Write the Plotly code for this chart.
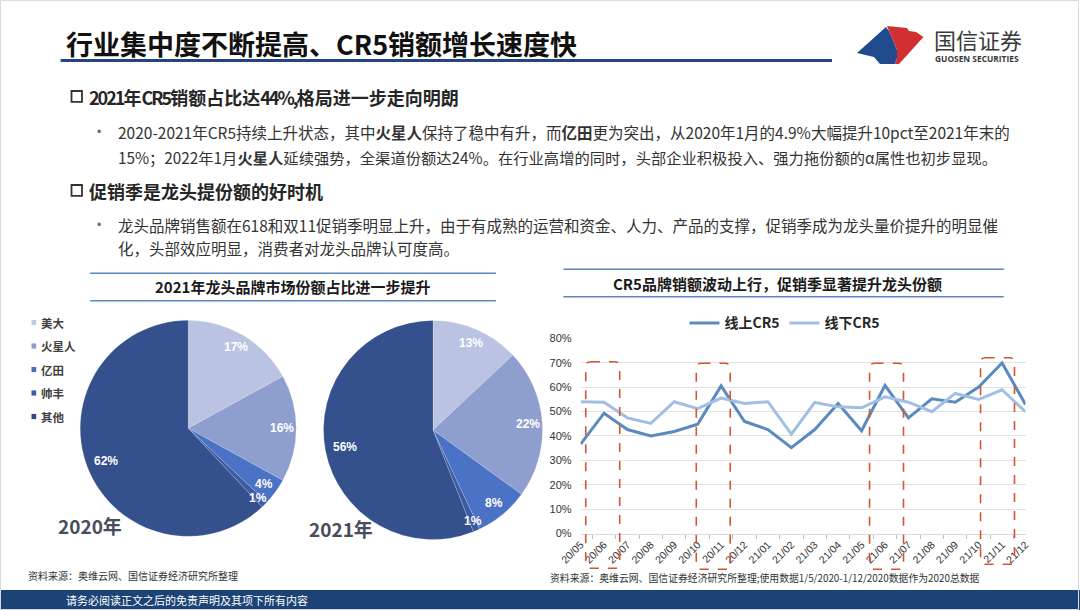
import math
import plotly.graph_objects as go

# ---------------- data ----------------
brands = ["美大", "火星人", "亿田", "帅丰", "其他"]
share_2020 = [17, 16, 4, 1, 62]
share_2021 = [13, 22, 8, 1, 56]
pie_years = ["2020年", "2021年"]

months = ["20/05", "20/06", "20/07", "20/08", "20/09", "20/10", "20/11", "20/12",
          "21/01", "21/02", "21/03", "21/04", "21/05", "21/06", "21/07", "21/08",
          "21/09", "21/10", "21/11", "21/12"]
online_cr5 = [36.6, 49.3, 42.6, 40.0, 41.8, 44.8, 60.5, 45.9, 42.6, 35.2,
              42.6, 53.3, 42.1, 60.7, 47.4, 55.2, 53.8, 60.0, 69.9, 52.9]
offline_cr5 = [54.0, 53.8, 47.4, 45.1, 54.0, 51.2, 55.5, 53.3, 54.0, 40.7,
               53.7, 51.9, 51.5, 56.0, 53.8, 49.9, 57.4, 54.9, 58.9, 49.9]
series_names = ["线上CR5", "线下CR5"]
y_ticks = [0, 10, 20, 30, 40, 50, 60, 70, 80]
y_tick_labels = ["0%", "10%", "20%", "30%", "40%", "50%", "60%", "70%", "80%"]

# ---------------- helpers ----------------
W, H = 1080, 610


def px(x):
    return x / W


def py(y):
    return 1 - y / H


CJK = "Noto Sans CJK SC"
LAT = "Liberation Sans, Arial, Noto Sans CJK SC"

slice_colors = ["#BAC3E1", "#8E9ECF", "#4B73C5", "#3C5CA6", "#34508D"]
legend_colors = ["#C3CAE6", "#8E9DCE", "#4A6FC0", "#3D5BA3", "#34487F"]
line_colors = ["#5B8AC0", "#A0BFE3"]

fig = go.Figure()
annotations = []
shapes = []


def ann(text, x, y, size, color="#222222", family=CJK, xanchor="left", yanchor="middle"):
    annotations.append(dict(text=text, x=px(x), y=py(y), xref="paper", yref="paper",
                            xanchor=xanchor, yanchor=yanchor, showarrow=False,
                            font=dict(size=size, color=color, family=family)))


def rect(x0, y0, x1, y1, fill=None, line_color=None, lw=0, layer="above"):
    shapes.append(dict(type="rect", xref="paper", yref="paper",
                       x0=px(x0), x1=px(x1), y0=py(y1), y1=py(y0),
                       fillcolor=fill if fill else "rgba(0,0,0,0)",
                       line=dict(color=line_color if line_color else "rgba(0,0,0,0)", width=lw),
                       layer=layer))


def hline(x0, x1, y, color, lw):
    shapes.append(dict(type="line", xref="paper", yref="paper", x0=px(x0), x1=px(x1),
                       y0=py(y), y1=py(y), line=dict(color=color, width=lw)))


def poly(points, fill):
    pts = [f"{px(x):.5f},{py(y):.5f}" for x, y in points]
    path = "M " + " L ".join(pts) + " Z"
    shapes.append(dict(type="path", xref="paper", yref="paper", path=path,
                       fillcolor=fill, line=dict(width=0)))


def narrow(s):
    return f'<span style="letter-spacing:-2px">{s}</span>'


# ---------------- pies ----------------
pies = [(share_2020, 188.2, 428.3, 108.0), (share_2021, 433.0, 430.0, 109.5)]
for vals, cx, cy, r in pies:
    fig.add_trace(go.Pie(
        labels=brands, values=vals, sort=False, direction="clockwise", rotation=0,
        domain=dict(x=[px(cx - r), px(cx + r)], y=[py(cy + r), py(cy - r)]),
        marker=dict(colors=slice_colors, line=dict(width=0.6, color="rgba(255,255,255,0.3)")),
        textinfo="none", showlegend=False, hoverinfo="label+percent"))
    tot = sum(vals)
    cum = 0
    for v in vals:
        mid = (cum + v / 2) / tot
        cum += v
        th = 2 * math.pi * mid
        share = v / tot
        k = 0.82 if share > 0.5 else (0.91 if share < 0.02 else 0.87)
        ann(f"<b>{round(100 * share)}%</b>", cx + k * r * math.sin(th), cy - k * r * math.cos(th),
            12, "#FFFFFF", LAT, "center")

ann("<b>2020年</b>", 90, 525, 19, "#474D5A", CJK, "center")
ann("<b>2021年</b>", 341, 528, 19, "#474D5A", CJK, "center")

# pie legend (left column)
for i, (b, c) in enumerate(zip(brands, legend_colors)):
    yy = 322.7 + i * 23.5
    rect(31.5, yy - 2.8, 36.2, yy + 2.4, fill=c)
    ann(f"<b>{b}</b>", 38.5, yy, 11.5, "#404040")

# ---------------- line chart ----------------
for name, vals, c in zip(series_names, [online_cr5, offline_cr5], line_colors):
    fig.add_trace(go.Scatter(x=months, y=vals, name=name, mode="lines",
                             line=dict(color=c, width=3), xaxis="x", yaxis="y",
                             hovertemplate="%{x}: %{y:.1f}%<extra>" + name + "</extra>"))

# highlight boxes (rounded, dashed)
box_x0 = [0.22, 4.94, 12.34, 17.08]
box_w = 1.45
box_top = [361.7, 363.3, 363.3, 357.7]
box_bot = [568.3, 569.3, 569.3, 564.3]
rx, ry = 0.22, 5 / H
for x0, t, b in zip(box_x0, box_top, box_bot):
    x1 = x0 + box_w
    y1, y0 = py(t), py(b)
    path = (f"M {x0 + rx},{y1} L {x1 - rx},{y1} Q {x1},{y1} {x1},{y1 - ry} "
            f"L {x1},{y0 + ry} Q {x1},{y0} {x1 - rx},{y0} L {x0 + rx},{y0} "
            f"Q {x0},{y0} {x0},{y0 + ry} L {x0},{y1 - ry} Q {x0},{y1} {x0 + rx},{y1} Z")
    shapes.append(dict(type="path", xref="x", yref="paper", path=path,
                       line=dict(color="#D4552F", width=1.6, dash="dash"),
                       fillcolor="rgba(0,0,0,0)", layer="above"))

# ---------------- slide decorations ----------------
# header title
ann("<b>行业集中度不断提高、CR5销额增长速度快</b>", 64, 44, 27, "#111111")
hline(60.6, 832, 60.5, "#23467F", 3)

# logo
poly([(857, 53), (886, 27), (889, 31), (893, 40), (897, 50), (897, 58), (895, 64),
      (880, 64), (874, 57)], "#1F4B8E")
poly([(887, 26), (907, 28), (909, 31), (916, 32), (923.5, 37), (899, 64), (895, 64),
      (897, 58), (897, 50), (893, 40), (889, 31)], "#D0302F")
ann("国信证券", 932, 39, 22, "#3A3A3A")
ann("<b>GUOSEN SECURITIES</b>", 932.5, 58.5, 8.4, "#3A3A3A", "Open Sans")

# section headings
rect(71.5, 91, 82, 101.8, line_color="#333333", lw=1.8)
ann("<b>" + narrow("2021") + "年" + narrow("CR5") + "销额占比达" + narrow("44%,")
    + "格局进一步走向明朗</b>", 87, 96.7, 18, "#262626")
rect(71.5, 185, 82, 195.8, line_color="#333333", lw=1.8)
ann("<b>促销季是龙头提份额的好时机</b>", 87, 190.7, 18, "#262626")

# bullets
ann("•", 98.5, 131.5, 12, "#666666", LAT, "center")
ann("2020-2021年CR5持续上升状态，其中<b>火星人</b>保持了稳中有升，而<b>亿田</b>更为突出，"
    "从2020年1月的4.9%大幅提升10pct至2021年末的", 116, 131.7, 15.5, "#333333")
ann("15%；2022年1月<b>火星人</b>延续强势，全渠道份额达24%。在行业高增的同时，"
    "头部企业积极投入、强力拖份额的α属性也初步显现。", 116, 156.7, 15.3, "#333333")
ann("•", 98.5, 225, 12, "#666666", LAT, "center")
ann("龙头品牌销售额在618和双11促销季明显上升，由于有成熟的运营和资金、人力、产品的支撑，"
    "促销季成为龙头量价提升的明显催", 116, 225, 15.5, "#333333")
ann("化，头部效应明显，消费者对龙头品牌认可度高。", 116, 248.3, 15.5, "#333333")

# chart titles
hline(90.2, 495.9, 273.3, "#5B86C4", 1.6)
hline(90.2, 495.9, 300.7, "#5B86C4", 1.6)
ann("<b>2021年龙头品牌市场份额占比进一步提升</b>", 292.7, 287, 15, "#1A1A1A", CJK, "center")
hline(563.4, 1003.8, 269.3, "#5B86C4", 1.6)
hline(563.4, 1003.8, 296.7, "#5B86C4", 1.6)
ann("<b>CR5品牌销额波动上行，促销季显著提升龙头份额</b>", 777.6, 283, 15, "#1A1A1A", CJK, "center")

# sources
ann("资料来源：奥维云网、国信证券经济研究所整理", 25.8, 575.7, 10, "#333333")
ann("资料来源：奥维云网、国信证券经济研究所整理;使用数据1/5/2020-1/12/2020数据作为2020总数据",
    547.6, 577.7, 9.85, "#333333")

# footer bar
rect(0, 590, 1080, 610, fill="#1B4376", layer="below")
ann("请务必阅读正文之后的免责声明及其项下所有内容", 63.7, 599.5, 11, "#FFFFFF")

# slide frame
rect(0.5, 0.5, 1078.5, 609.5, line_color="#DADADA", lw=1, layer="below")

fig.update_layout(
    width=W, height=H,
    margin=dict(l=0, r=0, t=0, b=0, pad=0, autoexpand=False),
    paper_bgcolor="#FFFFFF", plot_bgcolor="#FFFFFF",
    showlegend=True,
    legend=dict(orientation="h", x=px(784.5), xanchor="center", y=py(323.3), yanchor="middle",
                font=dict(size=14, family=CJK, color="#262626", weight="bold"),
                bgcolor="rgba(0,0,0,0)", itemwidth=30),
    xaxis=dict(domain=[px(580.6), px(1025.5)], anchor="y", type="category",
               tickson="boundaries", ticks="outside", ticklen=4, tickcolor="#BFBFBF",
               showline=True, linecolor="#D9D9D9", linewidth=1, showgrid=False,
               tickangle=-45, tickfont=dict(size=10.5, family=LAT, color="#333333"),
               automargin=False, fixedrange=True),
    yaxis=dict(domain=[py(533.5), py(338.3)], anchor="x", range=[0, 80],
               tickmode="array", tickvals=y_ticks, ticktext=y_tick_labels,
               showgrid=True, gridcolor="#E2E2E2",
               gridwidth=1, zeroline=False, showline=False, ticks="",
               ticklabelstandoff=8, tickfont=dict(size=11, family=LAT, color="#333333"),
               automargin=False, fixedrange=True),
    annotations=annotations,
    shapes=shapes,
)

fig.write_html(
    "out.html",
    config={"displayModeBar": False},
    post_script="document.body.style.margin='0px';document.documentElement.style.overflow='hidden';",
)
